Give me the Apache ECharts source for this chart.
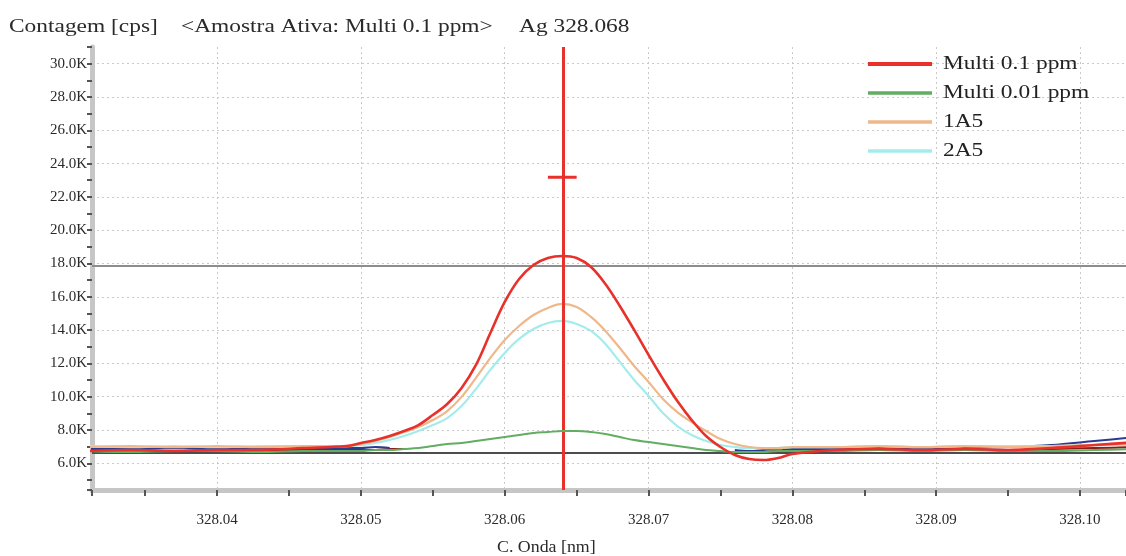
<!DOCTYPE html>
<html>
<head>
<meta charset="utf-8">
<script src="https://cdn.jsdelivr.net/npm/echarts@6/dist/echarts.min.js"></script>
<style>
  html, body { margin: 0; padding: 0; background: #ffffff; }
  #chart { width: 1126px; height: 556px; }
</style>
</head>
<body>
<div id="chart"></div>
<script>
// Wavelength grid (nm): coarse on the flanks, 0.001 nm steps across the Ag line
const wavelengths = [
  328.031, 328.034, 328.037, 328.040, 328.043, 328.046, 328.049,
  328.050, 328.051, 328.052, 328.053, 328.054, 328.055, 328.056, 328.057, 328.058, 328.059,
  328.060, 328.061, 328.062, 328.063, 328.064, 328.065, 328.066, 328.067, 328.068, 328.069,
  328.070, 328.071, 328.072, 328.073, 328.074, 328.075, 328.076, 328.077, 328.078, 328.079,
  328.080,
  328.083, 328.086, 328.089, 328.092, 328.095, 328.098, 328.101, 328.104
];

// Intensities (cps)
const multi01 = [
  6740, 6800, 6750, 6800, 6810, 6920, 7040,
  7220, 7400, 7640, 7940, 8300, 8900, 9560, 10530, 11910, 13830,
  15690, 17070, 17910, 18330, 18450, 18330, 17790, 16770, 15450, 14010,
  12510, 11070, 9740, 8600, 7640, 6980, 6500, 6260, 6200, 6320,
  6560,
  6800, 6860, 6800, 6860, 6800, 6920, 7100, 7280
];
const multi001 = [
  6740, 6680, 6740, 6740, 6680, 6740, 6740,
  6740, 6800, 6800, 6860, 6920, 7040, 7160, 7220, 7340, 7460,
  7580, 7700, 7820, 7880, 7940, 7940, 7880, 7760, 7580, 7400,
  7280, 7160, 7040, 6920, 6800, 6740, 6680, 6680, 6680, 6740,
  6740,
  6740, 6800, 6740, 6800, 6740, 6740, 6800, 6860
];
const sample1A5 = [
  6980, 7040, 6980, 7040, 6980, 7040, 7040,
  7160, 7340, 7580, 7880, 8180, 8600, 9140, 9990, 11130, 12330,
  13410, 14250, 14910, 15330, 15570, 15390, 14790, 13950, 12930, 11850,
  10890, 9870, 9080, 8480, 7940, 7460, 7160, 6980, 6920, 6920,
  6980,
  6980, 7040, 6980, 7040, 6980, 7040, 7100, 7160
];
const sample2A5 = [
  7040, 6980, 7040, 6980, 7040, 7040, 7040,
  7100, 7220, 7400, 7640, 7940, 8300, 8720, 9440, 10470, 11610,
  12630, 13470, 14070, 14430, 14550, 14370, 13950, 13170, 12090, 11010,
  10050, 9020, 8240, 7700, 7340, 7100, 6980, 6920, 6920, 6920,
  6980,
  6980, 7040, 6980, 7040, 7040, 7040, 7100, 7160
];
// Background-correction traces (only on the flanks)
const backgroundA = [
  6740, 6800, 6740, 6800, 6740, 6800, 6800,
  6800, 6800, 6860, 6860, null, null, null, null, null, null,
  null, null, null, null, null, null, null, null, null, null,
  null, null, null, null, null, null, 6680, 6680, 6680, 6740,
  6740,
  6800, 6800, 6860, 6800, 6800, 6860, 6920, 6980
];
const backgroundB = [
  6860, 6860, 6920, 6860, 6860, 6860, 6920,
  6920, 6980, 6920, null, null, null, null, null, null, null,
  null, null, null, null, null, null, null, null, null, null,
  null, null, null, null, null, null, 6800, 6740, 6800, 6860,
  6860,
  6860, 6920, 6860, 6920, 6980, 7100, 7340, 7580
];

const seriesNames = ['Multi 0.1 ppm', 'Multi 0.01 ppm', '1A5', '2A5'];
const seriesData = [multi01, multi001, sample1A5, sample2A5];

// Peak cursor and reference levels
const cursorWavelength = 328.0641;
const cursorMark = [[328.063, 23180], [328.065, 23180]];
const upperLevel = 17850;
const lowerLevel = 6650;

const titleParts = ['Contagem [cps]', '<Amostra Ativa: Multi 0.1 ppm>', 'Ag 328.068'];
const axisTitle = 'C. Onda [nm]';

const colors = ['#e8312b', '#62ad62', '#efb88a', '#a4ecec'];
const widths = [2.6, 2, 2.2, 2.2];
const serif = '"Liberation Serif", "Times New Roman", serif';

const pairs = ys => wavelengths.map((w, i) => [w, ys[i]]);

const chart = echarts.init(document.getElementById('chart'), null, { renderer: 'canvas' });

const lineSeries = (name, ys, color, width, z) => ({
  name: name,
  type: 'line',
  data: pairs(ys),
  showSymbol: false,
  smooth: 0.35,
  connectNulls: false,
  lineStyle: { color: color, width: width },
  itemStyle: { color: color },
  z: z,
  silent: true
});

const series = [
  lineSeries('bgA', backgroundA, '#8e1c17', 2, 2),
  lineSeries('bgB', backgroundB, '#2b3b92', 2, 2),
  lineSeries(seriesNames[3], seriesData[3], colors[3], widths[3], 3),
  lineSeries(seriesNames[2], seriesData[2], colors[2], widths[2], 4),
  lineSeries(seriesNames[1], seriesData[1], colors[1], widths[1], 5),
  Object.assign(lineSeries(seriesNames[0], seriesData[0], colors[0], widths[0], 6), {
    markLine: {
      silent: true,
      symbol: ['none', 'none'],
      precision: 6,
      label: { show: false },
      animation: false,
      data: [
        { yAxis: upperLevel, lineStyle: { color: '#8d8d8d', width: 2, type: 'solid' } },
        { yAxis: lowerLevel, lineStyle: { color: '#4d4d4d', width: 2, type: 'solid' } },
        { xAxis: cursorWavelength, lineStyle: { color: '#e8312b', width: 3, type: 'solid' } }
      ]
    }
  }),
  {
    name: 'cursor',
    type: 'line',
    data: cursorMark,
    showSymbol: false,
    lineStyle: { color: '#e8312b', width: 3 },
    z: 7,
    silent: true
  }
];

const legendGraphic = seriesNames.map((name, i) => ({
  type: 'group',
  x: 868,
  y: 64 + i * 29,
  z: 100,
  children: [
    { type: 'line', z: 100, shape: { x1: 0, y1: 0, x2: 64, y2: 0 },
      style: { stroke: colors[i], lineWidth: i === 0 ? 4 : 3.5 } },
    { type: 'text', z: 100, x: 75, y: 0, scaleX: 1.3,
      style: { text: name, fontFamily: serif, fontSize: 18, fill: '#222', verticalAlign: 'middle' } }
  ]
}));

const titleX = [9, 181, 519];
const titleGraphic = titleParts.map((t, i) => ({
  type: 'text', x: titleX[i], y: 27, scaleX: 1.3,
  style: { text: t, fontFamily: serif, fontSize: 18, fill: '#2a2a2a', verticalAlign: 'middle' }
}));

chart.setOption({
  animation: false,
  backgroundColor: '#ffffff',
  grid: { left: 92, right: 0, top: 47, bottom: 66, containLabel: false },
  xAxis: {
    type: 'value',
    min: 328.0313,
    max: 328.1032,
    splitNumber: 7,
    axisLine: { show: true, onZero: false, lineStyle: { color: '#c6c6c6', width: 5 } },
    axisTick: { show: true, length: 6, lineStyle: { color: '#555', width: 2 } },
    minorTick: { show: true, splitNumber: 2, length: 6, lineStyle: { color: '#555', width: 2 } },
    axisLabel: {
      margin: 23,
      fontFamily: serif,
      fontSize: 15,
      color: '#2a2a2a',
      showMinLabel: false,
      showMaxLabel: false,
      formatter: v => Math.abs(v * 100 - Math.round(v * 100)) < 1e-6 ? v.toFixed(2) : ''
    },
    splitLine: {
      show: true, showMinLine: false, showMaxLine: false,
      lineStyle: { color: '#c9c9c9', width: 1, type: [2, 3] }
    }
  },
  yAxis: {
    type: 'value',
    min: 4400,
    max: 31000,
    splitNumber: 13,
    axisLine: { show: true, onZero: false, lineStyle: { color: '#c6c6c6', width: 5 } },
    axisTick: { show: true, length: 5, lineStyle: { color: '#555', width: 2 } },
    minorTick: { show: true, splitNumber: 2, length: 5, lineStyle: { color: '#555', width: 2 } },
    axisLabel: {
      margin: 5,
      fontFamily: serif,
      fontSize: 15,
      color: '#2a2a2a',
      showMinLabel: false,
      showMaxLabel: false,
      formatter: v => v % 2000 === 0 ? (v / 1000).toFixed(1) + 'K' : ''
    },
    splitLine: {
      show: true, showMinLine: false, showMaxLine: false,
      lineStyle: { color: '#c9c9c9', width: 1, type: [2, 3] }
    }
  },
  series: series,
  graphic: titleGraphic.concat(legendGraphic, [{
    type: 'text', x: 497, y: 548, scaleX: 1.05,
    style: { text: axisTitle, fontFamily: serif, fontSize: 17, fill: '#2a2a2a', verticalAlign: 'middle' }
  }])
});
</script>
</body>
</html>
